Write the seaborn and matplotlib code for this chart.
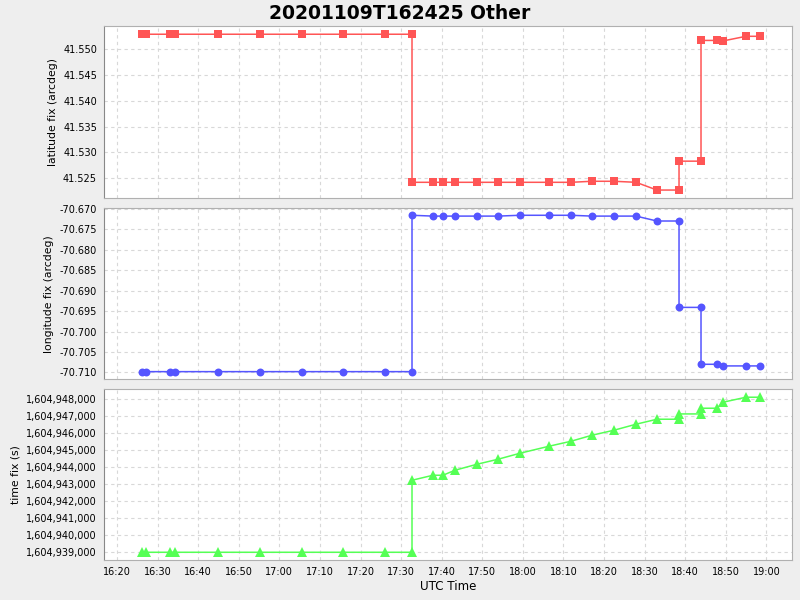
import matplotlib
matplotlib.use("Agg")
import matplotlib.dates as mdates
import matplotlib.pyplot as plt
import matplotlib.ticker as mticker
import pandas as pd
import seaborn as sns

# UTC times of the fixes (two fixes share a time where the line jumps vertically)
utc_times = [
    "16:26:10", "16:27:14", "16:32:59", "16:34:12", "16:44:54", "16:55:12",
    "17:05:36", "17:15:42", "17:26:00", "17:32:41", "17:32:41", "17:37:51",
    "17:40:18", "17:43:16", "17:48:41", "17:53:52", "17:59:17", "18:06:26",
    "18:11:51", "18:17:01", "18:22:26", "18:27:52", "18:33:02", "18:38:28",
    "18:38:28", "18:43:53", "18:43:53", "18:47:49", "18:49:18", "18:54:58",
    "18:58:25",
]
latitude = [
    41.5529, 41.5529, 41.5529, 41.5529, 41.5529, 41.5529, 41.5529, 41.5529,
    41.5529, 41.5529, 41.5242, 41.5242, 41.5242, 41.5242, 41.5242, 41.5242,
    41.5242, 41.5242, 41.5242, 41.5244, 41.5244, 41.5242, 41.5227, 41.5227,
    41.5283, 41.5283, 41.5517, 41.5517, 41.5516, 41.5525, 41.5525,
]
longitude = [
    -70.7098, -70.7098, -70.7098, -70.7098, -70.7098, -70.7098, -70.7098,
    -70.7098, -70.7098, -70.7098, -70.6716, -70.6718, -70.6718, -70.6718,
    -70.6718, -70.6718, -70.6716, -70.6716, -70.6716, -70.6718, -70.6718,
    -70.6718, -70.6730, -70.6730, -70.6941, -70.6941, -70.7080, -70.7080,
    -70.7084, -70.7084, -70.7084,
]
time_fix = [
    1604938965, 1604938965, 1604938965, 1604938965, 1604938965, 1604938965,
    1604938965, 1604938965, 1604938965, 1604938965, 1604943210, 1604943505,
    1604943505, 1604943800, 1604944153, 1604944448, 1604944802, 1604945215,
    1604945509, 1604945863, 1604946158, 1604946512, 1604946807, 1604946807,
    1604947119, 1604947119, 1604947455, 1604947455, 1604947809, 1604948104,
    1604948104,
]

df = pd.DataFrame({
    "utc": pd.to_datetime(["2020-11-09 " + t for t in utc_times]),
    "lat": latitude,
    "lon": longitude,
    "tfix": time_fix,
})

sns.set_style("white")
plt.rcParams["font.family"] = ["DejaVu Sans"]
plt.rcParams["text.color"] = "black"
plt.rcParams["axes.labelcolor"] = "black"
plt.rcParams["xtick.color"] = "black"
plt.rcParams["ytick.color"] = "black"

fig = plt.figure(figsize=(8, 6), dpi=100, facecolor="#eeeeee")
left, width = 0.13, 0.86
ax1 = fig.add_axes([left, 0.6695, width, 0.2872])
ax2 = fig.add_axes([left, 0.3683, width, 0.2845], sharex=ax1)
ax3 = fig.add_axes([left, 0.0667, width, 0.2845], sharex=ax1)

panels = [
    (ax1, "lat", "#ff5555", "s", 5.5, "latitude fix (arcdeg)"),
    (ax2, "lon", "#5555ff", "o", 5.7, "longitude fix (arcdeg)"),
    (ax3, "tfix", "#55ff55", "^", 6.5, "time fix (s)"),
]
for ax, col, color, marker, ms, label in panels:
    sns.lineplot(data=df, x="utc", y=col, ax=ax, color=color, marker=marker,
                 markersize=ms, markeredgewidth=0, linewidth=1.1,
                 estimator=None, sort=False)
    ax.set_facecolor("white")
    ax.grid(True, color="#d8d8d8", linestyle=(0, (3, 3)), linewidth=0.8)
    for s in ax.spines.values():
        s.set_color("#b0b0b0")
    ax.spines["left"].set_color("#888888")
    ax.set_ylabel(label, fontsize=7.8)
    ax.set_xlabel("")
    ax.tick_params(axis="y", labelsize=7, length=3, color="#888888", pad=2)

ax1.set_ylim(41.5211, 41.5545)
ax1.yaxis.set_major_locator(mticker.MultipleLocator(0.005))
ax1.yaxis.set_major_formatter(mticker.FormatStrFormatter("%.3f"))

ax2.set_ylim(-70.7116, -70.6699)
ax2.yaxis.set_major_locator(mticker.MultipleLocator(0.005))
ax2.yaxis.set_major_formatter(mticker.FormatStrFormatter("%.3f"))

ax3.set_ylim(1604938511, 1604948572)
ax3.yaxis.set_major_locator(mticker.MultipleLocator(1000))
ax3.yaxis.set_major_formatter(mticker.FuncFormatter(lambda v, p: f"{v:,.0f}"))

ax1.set_xlim(pd.Timestamp("2020-11-09 16:16:48"), pd.Timestamp("2020-11-09 19:06:18"))
ax3.xaxis.set_major_locator(mdates.MinuteLocator(byminute=range(0, 60, 10)))
ax3.xaxis.set_major_formatter(mdates.DateFormatter("%H:%M"))
ax3.tick_params(axis="x", labelsize=7, length=3, color="#888888", pad=2)
ax3.set_xlabel("UTC Time", fontsize=8.6, labelpad=2)
for ax in (ax1, ax2):
    ax.tick_params(axis="x", labelbottom=False, length=0)

fig.suptitle("20201109T162425 Other", fontsize=13.5, fontweight="bold", y=0.993)

fig.savefig("out.png", dpi=100, facecolor=fig.get_facecolor())
